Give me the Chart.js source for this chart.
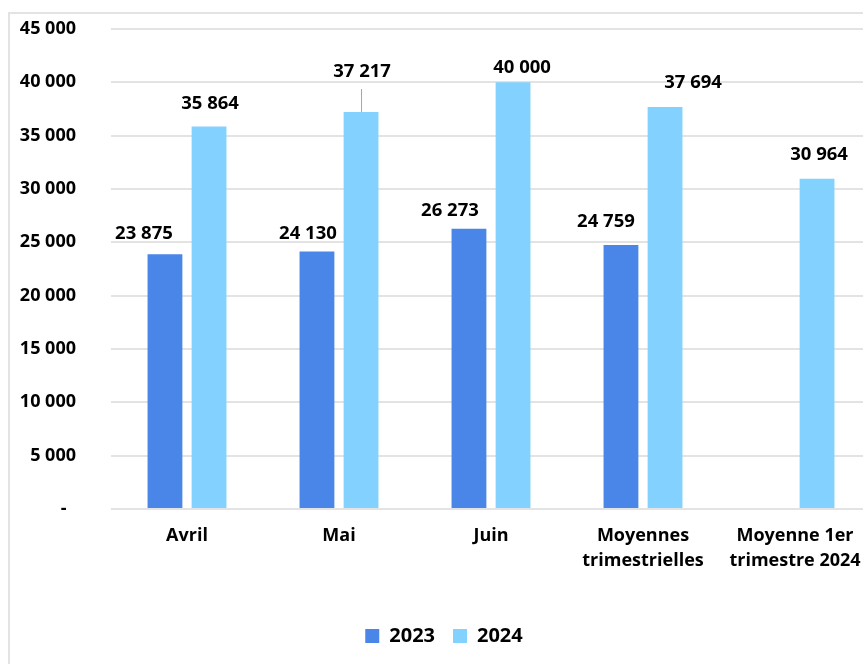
<!DOCTYPE html>
<html>
<head>
<meta charset="utf-8">
<script src="https://cdn.jsdelivr.net/npm/chart.js@4/dist/chart.umd.min.js"></script>
<style>
  html, body { margin: 0; padding: 0; background: #fff; overflow: hidden; width: 863px; height: 664px; }
  .frame { position: absolute; left: 8px; top: 12px; width: 900px; height: 700px; border: 2px solid #e3e3e3; }
  #chart { position: absolute; left: 0; top: 0; }
</style>
</head>
<body>
<div class="frame"></div>
<canvas id="chart" width="880" height="664"></canvas>
<script>
// Données
const categories = ["Avril", "Mai", "Juin", ["Moyennes", "trimestrielles"], ["Moyenne 1er", "trimestre 2024"]];
const values2023 = [23875, 24130, 26273, 24759, null];
const values2024 = [35864, 37217, 40000, 37694, 30964];
const yTicks = [0, 5000, 10000, 15000, 20000, 25000, 30000, 35000, 40000, 45000];

// Décalage des étiquettes (dx, hauteur au-dessus de la barre)
const shift2023 = [[-21, 21], [-9, 18], [-19, 18], [-15, 23], [0, 0]];
const shift2024 = [[1, 23], [1, 40], [9, 15], [28, 24], [2, 24]];

const FONT = "'Open Sans', sans-serif";

function fmt(v) {
  return String(v).replace(/\B(?=(\d{3})+(?!\d))/g, " ");
}

// Étiquettes de données au-dessus des barres
const labelPlugin = {
  id: "barLabels",
  afterDatasetsDraw(chart) {
    const ctx = chart.ctx;
    const shifts = [shift2023, shift2024];
    ctx.save();
    ctx.font = "bold 18.5px " + FONT;
    ctx.fillStyle = "#000";
    ctx.textAlign = "center";
    ctx.textBaseline = "middle";
    chart.data.datasets.forEach((ds, i) => {
      const meta = chart.getDatasetMeta(i);
      meta.data.forEach((bar, j) => {
        const v = ds.data[j];
        if (v == null) return;
        const [dx, dy] = shifts[i][j];
        const ly = bar.y - dy;
        if (dy > 30) {
          // ligne de rappel
          ctx.strokeStyle = "#a6a6a6";
          ctx.lineWidth = 1;
          ctx.beginPath();
          ctx.moveTo(bar.x + 0.5, ly + 17);
          ctx.lineTo(bar.x + 0.5, bar.y);
          ctx.stroke();
        }
        ctx.fillText(fmt(v), bar.x + dx, ly);
      });
    });
    ctx.restore();
  }
};

new Chart(document.getElementById("chart"), {
  type: "bar",
  data: {
    labels: categories,
    datasets: [
      { label: "2023", data: values2023, backgroundColor: "#4a86e8" },
      { label: "2024", data: values2024, backgroundColor: "#83d1ff" }
    ]
  },
  options: {
    responsive: false,
    animation: false,
    categoryPercentage: 0.58,
    barPercentage: 0.79,
    layout: { padding: { top: 29, right: 9, bottom: 8, left: 17 } },
    plugins: {
      tooltip: { enabled: false },
      legend: {
        position: "bottom",
        labels: {
          color: "#000",
          font: { family: FONT, size: 20, weight: "bold" },
          boxWidth: 14,
          boxHeight: 14,
          padding: 18
        }
      }
    },
    scales: {
      x: {
        grid: { display: false, drawTicks: false },
        border: { display: false },
        ticks: {
          color: "#000",
          padding: 14,
          maxRotation: 0,
          font: { family: FONT, size: 18, weight: "bold", lineHeight: 1.4 }
        },
        afterFit(scale) { scale.height = 99; }
      },
      y: {
        min: 0,
        max: 45000,
        afterBuildTicks(scale) { scale.ticks = yTicks.map(v => ({ value: v })); },
        grid: { color: "#e3e3e3", lineWidth: 2, drawTicks: false },
        border: { display: false },
        ticks: {
          color: "#000",
          padding: 35,
          font: { family: FONT, size: 18, weight: "bold" },
          callback: v => (v === 0 ? "-  " : fmt(v))
        },
        afterFit(scale) {
          scale.width = 94;
          scale.paddingTop = 11;
          scale.paddingBottom = 0;
        }
      }
    }
  },
  plugins: [labelPlugin]
});
</script>
</body>
</html>
